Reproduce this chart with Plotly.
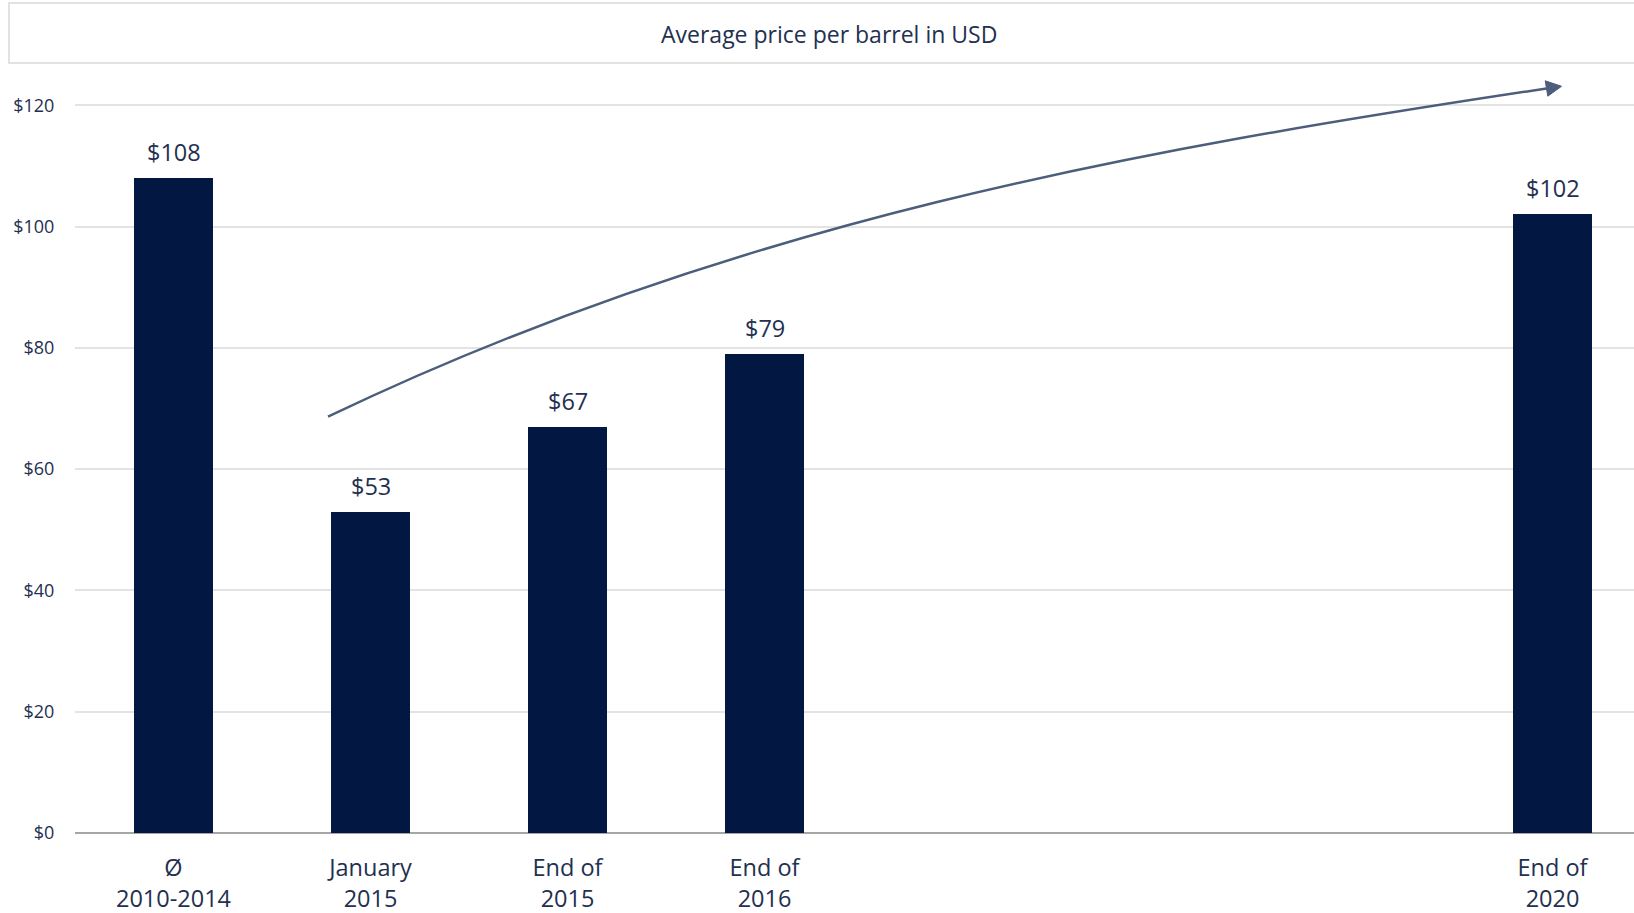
import plotly.graph_objects as go

# Oil price data (USD per barrel)
categories = ["Ø<br>2010-2014", "January<br>2015", "End of<br>2015", "End of<br>2016", "End of<br>2020"]
positions = [0, 1, 2, 3, 7]
prices = [108, 53, 67, 79, 102]
y_ticks = [0, 20, 40, 60, 80, 100, 120]
y_tick_labels = ["$0", "$20", "$40", "$60", "$80", "$100", "$120"]
title_text = "Average price per barrel in USD"

BAR = "#021742"
TEXT = "#23304f"
ARROW = "#4c5e7c"
FONT = "Open Sans"

# page geometry (pixels)
W_PX, H_PX = 1634, 913
L, T, B = 75, 66, 80
PLOT_W = W_PX - L
PLOT_H = H_PX - T - B
SLOT = 197.0                      # pixels per category slot
X_MAX = -0.5 + PLOT_W / SLOT
Y_MAX = PLOT_H / 6.064


def xd(px):
    return -0.5 + (px - L) / SLOT


def yd(py):
    return (H_PX - B - py) / PLOT_H * Y_MAX


def xp(px):
    return (px - L) / PLOT_W


def yp(py):
    return (H_PX - B - py) / PLOT_H


fig = go.Figure()
fig.add_trace(go.Bar(
    x=positions, y=prices, width=0.4,
    marker=dict(color=BAR, line=dict(width=0)),
    hoverinfo="skip",
))

# value labels above each bar
for x, v in zip(positions, prices):
    fig.add_annotation(x=x, y=v, text=f"${v:.0f}", showarrow=False,
                       yanchor="bottom", yshift=8,
                       font=dict(family=FONT, size=23.5, color=TEXT))

# rising trend arrow (cubic curve + arrowhead)
p0 = (328, 416.7)
c1 = (737, 220.4)
c2 = (1137.5, 149.9)
p3 = (1546.5, 88.5)
path = (f"M {xd(p0[0])},{yd(p0[1])} C {xd(c1[0])},{yd(c1[1])} "
        f"{xd(c2[0])},{yd(c2[1])} {xd(p3[0])},{yd(p3[1])}")
fig.add_shape(type="path", path=path, xref="x", yref="y",
              line=dict(color=ARROW, width=2.5))
head = (f"M {xd(1561.5)},{yd(86.3)} L {xd(1545.2)},{yd(80.8)} "
        f"L {xd(1547.8)},{yd(96.2)} Z")
fig.add_shape(type="path", path=head, xref="x", yref="y",
              fillcolor=ARROW, line=dict(color=ARROW, width=1))

# title box
fig.add_shape(type="rect", xref="paper", yref="paper",
              x0=xp(9), x1=xp(1660), y0=yp(63), y1=yp(3),
              line=dict(color="#d9d9d9", width=1.5), fillcolor="white",
              layer="below")
fig.add_annotation(xref="paper", yref="paper", x=xp(829), y=yp(34),
                   text=title_text, showarrow=False,
                   xanchor="center", yanchor="middle",
                   font=dict(family=FONT, size=23, color=TEXT))

fig.update_layout(
    width=W_PX, height=H_PX,
    margin=dict(l=L, r=0, t=T, b=B, pad=0, autoexpand=False),
    paper_bgcolor="white", plot_bgcolor="white",
    showlegend=False,
    bargap=0,
    xaxis=dict(
        range=[-0.5, X_MAX], tickmode="array", tickvals=positions,
        ticktext=categories, showgrid=False, zeroline=False, automargin=False,
        showline=False, ticks="outside", ticklen=14, tickcolor="rgba(0,0,0,0)",
        tickfont=dict(family=FONT, size=23.5, color=TEXT), fixedrange=True,
    ),
    yaxis=dict(
        range=[0, Y_MAX], tickmode="array", tickvals=y_ticks, automargin=False,
        ticktext=y_tick_labels, showgrid=True, gridcolor="#e3e3e3", gridwidth=1.5,
        zeroline=True, zerolinecolor="#a6a6a6", zerolinewidth=1.5,
        showline=False, ticks="outside", ticklen=16, tickcolor="rgba(0,0,0,0)",
        tickfont=dict(family=FONT, size=18, color=TEXT), fixedrange=True,
    ),
)

fig.write_html("out.html", config={"displayModeBar": False})
